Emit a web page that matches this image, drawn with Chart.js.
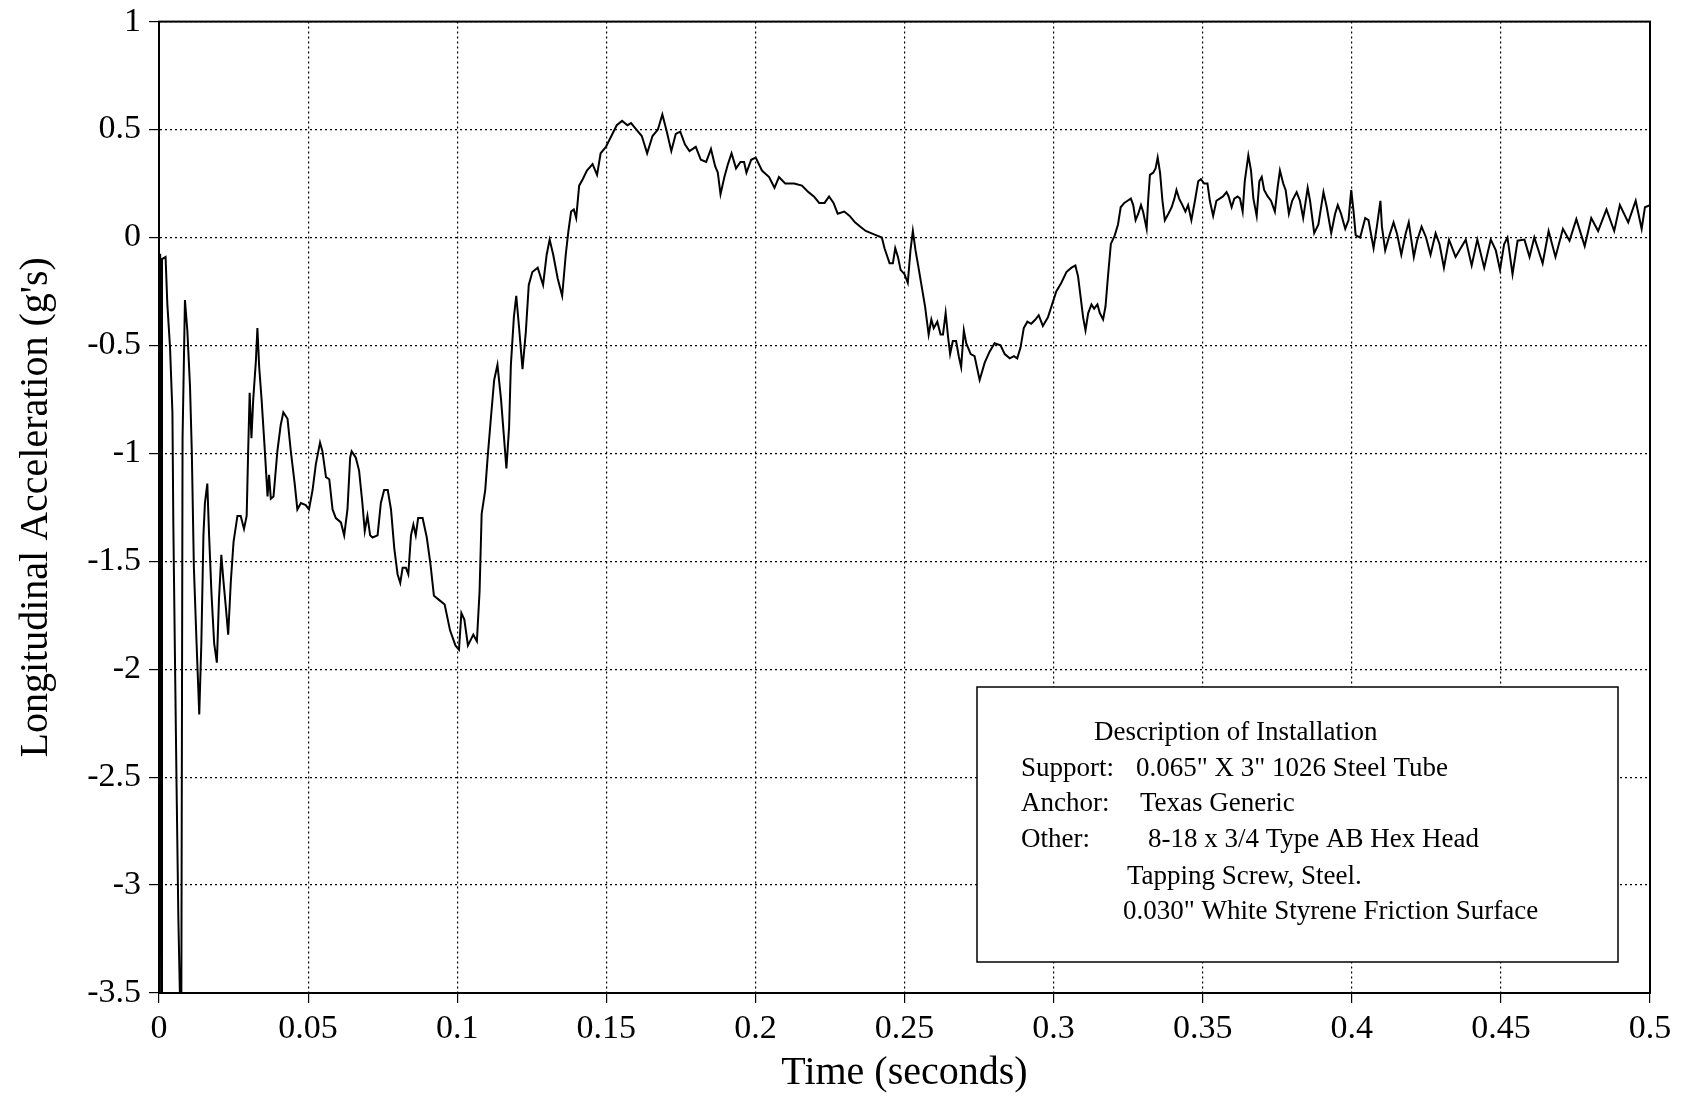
<!DOCTYPE html>
<html>
<head>
<meta charset="utf-8">
<script src="https://cdn.jsdelivr.net/npm/chart.js@4.4.1/dist/chart.umd.min.js"></script>
<style>
  html, body { margin: 0; padding: 0; background: #fff; }
  #wrap { width: 1689px; height: 1097px; }
</style>
</head>
<body>
<div id="wrap"><canvas id="accelChart"></canvas></div>
<script>
// time (s) and longitudinal acceleration (g's)
const timeS = [
  0, 0.0004, 0.0007, 0.001, 0.0022, 0.0028, 0.0037, 0.0045, 0.0048, 0.0054,
  0.0059, 0.0065, 0.007, 0.0075, 0.0079, 0.0087, 0.0095, 0.0104, 0.011, 0.0117,
  0.0126, 0.0135, 0.0142, 0.0149, 0.0154, 0.0162, 0.0168, 0.0176, 0.0185, 0.0194,
  0.0201, 0.0209, 0.0216, 0.0224, 0.0232, 0.0241, 0.025, 0.0263, 0.0274, 0.0285,
  0.0294, 0.0299, 0.0304, 0.031, 0.0316, 0.0325, 0.033, 0.0336, 0.0344, 0.0355,
  0.0364, 0.0369, 0.0375, 0.0384, 0.0397, 0.0408, 0.0417, 0.0431, 0.0442, 0.0455,
  0.0464, 0.0476, 0.0492, 0.0503, 0.0515, 0.0526, 0.054, 0.0548, 0.056, 0.0571,
  0.0582, 0.0593, 0.061, 0.0621, 0.0632, 0.0641, 0.0646, 0.066, 0.0671, 0.0682,
  0.069, 0.0699, 0.0708, 0.0716, 0.0733, 0.0744, 0.0755, 0.0767, 0.0778, 0.0789,
  0.08, 0.0809, 0.0817, 0.0828, 0.0836, 0.0845, 0.0853, 0.0861, 0.0869, 0.0884,
  0.0898, 0.091, 0.0922, 0.094, 0.0958, 0.0976, 0.0994, 0.1006, 0.1014, 0.1024,
  0.1036, 0.1054, 0.1066, 0.1075, 0.1082, 0.1094, 0.1102, 0.1114, 0.1124, 0.1135,
  0.1147, 0.1156, 0.1165, 0.1174, 0.118, 0.119, 0.1198, 0.1207, 0.1219, 0.123,
  0.124, 0.1252, 0.127, 0.1288, 0.13, 0.131, 0.1322, 0.1337, 0.1352, 0.1364,
  0.1373, 0.1382, 0.1391, 0.1399, 0.1409, 0.1421, 0.1435, 0.1454, 0.1469, 0.1481,
  0.1499, 0.1517, 0.1535, 0.1553, 0.1571, 0.1583, 0.1601, 0.1619, 0.1637, 0.1655,
  0.1673, 0.1688, 0.1703, 0.1718, 0.1733, 0.1748, 0.1764, 0.1779, 0.18, 0.1817,
  0.1835, 0.1851, 0.1865, 0.1874, 0.1883, 0.1896, 0.1908, 0.192, 0.1935, 0.195,
  0.1962, 0.197, 0.1986, 0.2001, 0.2022, 0.2046, 0.2064, 0.2079, 0.21, 0.213,
  0.2156, 0.2178, 0.2196, 0.2214, 0.2232, 0.2247, 0.2262, 0.2276, 0.2298, 0.2316,
  0.2334, 0.2352, 0.237, 0.2388, 0.2406, 0.2424, 0.2433, 0.245, 0.2461, 0.2469,
  0.2478, 0.2487, 0.25, 0.2511, 0.252, 0.2528, 0.2537, 0.2547, 0.2558, 0.2569,
  0.2581, 0.259, 0.2598, 0.261, 0.2621, 0.2629, 0.2638, 0.2646, 0.2653, 0.2662,
  0.2673, 0.2682, 0.269, 0.2699, 0.2707, 0.2722, 0.2735, 0.2752, 0.2769, 0.2785,
  0.2802, 0.2822, 0.2836, 0.2853, 0.2867, 0.2878, 0.2889, 0.29, 0.2912, 0.2925,
  0.2939, 0.295, 0.2964, 0.2981, 0.2995, 0.3009, 0.3026, 0.3043, 0.306, 0.3073,
  0.3082, 0.3091, 0.3099, 0.3107, 0.3116, 0.3127, 0.3136, 0.3147, 0.3155, 0.3166,
  0.3174, 0.3183, 0.3192, 0.3205, 0.3216, 0.3225, 0.3237, 0.3248, 0.3259, 0.3267,
  0.3275, 0.3284, 0.3293, 0.33, 0.3312, 0.3317, 0.3323, 0.3334, 0.3342, 0.3349,
  0.3357, 0.3365, 0.3373, 0.3385, 0.3396, 0.3405, 0.3412, 0.3421, 0.3432, 0.3442,
  0.3451, 0.3462, 0.3474, 0.3485, 0.3494, 0.3505, 0.3516, 0.3524, 0.3535, 0.3546,
  0.3557, 0.3568, 0.358, 0.3587, 0.3597, 0.3606, 0.3617, 0.3625, 0.3634, 0.3641,
  0.3653, 0.3662, 0.367, 0.3681, 0.369, 0.3698, 0.3706, 0.3718, 0.3729, 0.3742,
  0.3751, 0.3759, 0.377, 0.3778, 0.3789, 0.38, 0.3815, 0.3826, 0.3837, 0.3852,
  0.386, 0.3874, 0.3888, 0.3905, 0.3916, 0.3931, 0.3944, 0.3953, 0.3964, 0.3978,
  0.3989, 0.3998, 0.4006, 0.4013, 0.4028, 0.4045, 0.4056, 0.4073, 0.4084, 0.4096,
  0.4101, 0.4112, 0.4124, 0.414, 0.4152, 0.4166, 0.418, 0.4191, 0.4208, 0.4219,
  0.4234, 0.4249, 0.4264, 0.4281, 0.4294, 0.4309, 0.4326, 0.4348, 0.4365, 0.4382,
  0.4402, 0.4421, 0.4444, 0.4466, 0.4483, 0.4497, 0.4511, 0.4522, 0.4539, 0.4556,
  0.4579, 0.4596, 0.4612, 0.464, 0.466, 0.4683, 0.4708, 0.473, 0.4753, 0.4781,
  0.4803, 0.4826, 0.4854, 0.488, 0.4899, 0.4927, 0.4952, 0.4972, 0.4983, 0.5
];
const accelG = [
  -0.08, -0.08, -3.5, -0.1, -0.09, -0.31, -0.51, -0.81, -1.32, -2.0,
  -2.55, -3.16, -3.5, -3.5, -0.93, -0.29, -0.43, -0.69, -0.99, -1.53,
  -1.88, -2.21, -1.88, -1.38, -1.23, -1.14, -1.38, -1.65, -1.88, -1.97,
  -1.68, -1.47, -1.59, -1.71, -1.84, -1.59, -1.41, -1.29, -1.29, -1.35,
  -1.29, -0.99, -0.72, -0.93, -0.75, -0.57, -0.42, -0.6, -0.75, -0.99,
  -1.2, -1.1, -1.21, -1.2, -0.99, -0.87, -0.81, -0.84, -0.99, -1.14,
  -1.26, -1.23, -1.24, -1.26, -1.17, -1.05, -0.95, -0.99, -1.11, -1.12,
  -1.26, -1.3, -1.32, -1.38, -1.26, -1.02, -0.99, -1.02, -1.08, -1.23,
  -1.36, -1.29, -1.38, -1.39, -1.38, -1.23, -1.17, -1.17, -1.26, -1.44,
  -1.56, -1.6, -1.53, -1.53, -1.56, -1.38, -1.33, -1.38, -1.3, -1.3,
  -1.39, -1.51, -1.66, -1.68, -1.7, -1.82, -1.89, -1.91, -1.74, -1.77,
  -1.89, -1.84, -1.87, -1.64, -1.28, -1.17, -1.02, -0.82, -0.66, -0.59,
  -0.75, -0.91, -1.07, -0.88, -0.59, -0.37, -0.27, -0.41, -0.61, -0.44,
  -0.22, -0.16, -0.14, -0.22, -0.08, -0.01, -0.08, -0.19, -0.27, -0.08,
  0.03, 0.12, 0.13, 0.09, 0.24, 0.27, 0.31, 0.34, 0.29, 0.39,
  0.42, 0.47, 0.52, 0.54, 0.52, 0.53, 0.5, 0.47, 0.39, 0.47,
  0.5, 0.57, 0.49, 0.4, 0.48, 0.49, 0.43, 0.4, 0.42, 0.36,
  0.35, 0.41, 0.33, 0.3, 0.2, 0.28, 0.34, 0.39, 0.32, 0.35,
  0.35, 0.3, 0.36, 0.37, 0.31, 0.28, 0.23, 0.28, 0.25, 0.25,
  0.24, 0.21, 0.19, 0.16, 0.16, 0.19, 0.16, 0.11, 0.12, 0.1,
  0.07, 0.05, 0.03, 0.02, 0.01, 0.0, -0.05, -0.12, -0.12, -0.05,
  -0.09, -0.15, -0.17, -0.21, -0.06, 0.03, -0.06, -0.14, -0.23, -0.32,
  -0.45, -0.38, -0.42, -0.39, -0.45, -0.45, -0.35, -0.46, -0.54, -0.48,
  -0.48, -0.55, -0.6, -0.43, -0.49, -0.54, -0.55, -0.66, -0.58, -0.53,
  -0.49, -0.5, -0.54, -0.56, -0.55, -0.56, -0.51, -0.42, -0.39, -0.4,
  -0.38, -0.36, -0.41, -0.37, -0.31, -0.25, -0.21, -0.16, -0.14, -0.13,
  -0.18, -0.28, -0.37, -0.43, -0.35, -0.31, -0.33, -0.31, -0.35, -0.38,
  -0.32, -0.17, -0.03, 0.01, 0.06, 0.14, 0.16, 0.17, 0.18, 0.15,
  0.08, 0.11, 0.15, 0.12, 0.04, 0.17, 0.29, 0.3, 0.32, 0.37,
  0.3, 0.17, 0.08, 0.11, 0.14, 0.18, 0.22, 0.18, 0.15, 0.12,
  0.15, 0.08, 0.17, 0.26, 0.27, 0.25, 0.25, 0.17, 0.1, 0.17,
  0.18, 0.19, 0.21, 0.19, 0.14, 0.18, 0.19, 0.18, 0.12, 0.26,
  0.38, 0.31, 0.18, 0.1, 0.26, 0.28, 0.22, 0.19, 0.17, 0.12,
  0.23, 0.31, 0.25, 0.22, 0.11, 0.17, 0.21, 0.17, 0.09, 0.23,
  0.17, 0.02, 0.06, 0.21, 0.14, 0.02, 0.11, 0.15, 0.11, 0.04,
  0.08, 0.22, 0.12, 0.01, 0.0, 0.09, 0.08, -0.05, 0.05, 0.17,
  0.05, -0.06, 0.0, 0.07, 0.015, -0.08, 0.015, 0.07, -0.09, -0.015,
  0.05, 0.0, -0.08, 0.02, -0.03, -0.14, -0.01, -0.09, -0.05, -0.01,
  -0.13, -0.01, -0.14, -0.01, -0.06, -0.15, -0.03, 0.0, -0.17, -0.015,
  -0.01, -0.09, 0.0, -0.12, 0.03, -0.09, 0.04, -0.015, 0.085, -0.04,
  0.09, 0.03, 0.13, 0.03, 0.15, 0.07, 0.17, 0.04, 0.14, 0.15
];
const xTicks = [0, 0.05, 0.1, 0.15, 0.2, 0.25, 0.3, 0.35, 0.4, 0.45, 0.5];
const yTicks = [1, 0.5, 0, -0.5, -1, -1.5, -2, -2.5, -3, -3.5];
const boxTitle = "Description of Installation";
const boxRows = [
  ["Support:", "0.065\" X 3\" 1026 Steel Tube"],
  ["Anchor:", "Texas Generic"],
  ["Other:", "8-18 x 3/4 Type AB Hex Head"],
  ["", "Tapping Screw, Steel."],
  ["", "0.030\" White Styrene Friction Surface"]
];

const serif = "'Liberation Serif', 'Times New Roman', 'DejaVu Serif', serif";
const points = timeS.map((t, i) => ({ x: t, y: accelG[i] }));

// frame around plot + description box
const framePlugin = {
  id: "frame",
  afterDraw(chart) {
    const { ctx, chartArea: a } = chart;
    ctx.save();
    ctx.strokeStyle = "#000";
    ctx.lineWidth = 2;
    ctx.strokeRect(a.left, a.top, a.right - a.left, a.bottom - a.top);

    // description box
    const bx = 977, by = 687, bw = 641, bh = 275;
    ctx.fillStyle = "#fff";
    ctx.fillRect(bx, by, bw, bh);
    ctx.lineWidth = 1.5;
    ctx.strokeRect(bx, by, bw, bh);

    ctx.fillStyle = "#000";
    ctx.font = "27px " + serif;
    ctx.textBaseline = "middle";
    ctx.textAlign = "left";
    ctx.fillText(boxTitle, 1094, 733);
    const rowY = [769, 804, 840, 877, 912];
    const valX = [1136, 1140, 1148, 1127, 1123];
    boxRows.forEach((r, i) => {
      if (r[0]) ctx.fillText(r[0], 1021, rowY[i]);
      ctx.fillText(r[1], valX[i], rowY[i]);
    });
    ctx.restore();
  }
};

const fmt = (v) => String(Number(v.toFixed(2)));

const config = {
  type: "line",
  data: {
    datasets: [{
      data: points,
      borderColor: "#000",
      borderWidth: 2,
      pointRadius: 0,
      tension: 0,
      fill: false
    }]
  },
  options: {
    responsive: false,
    animation: false,
    layout: { padding: { top: 16, right: 39, bottom: 0, left: 0 } },
    plugins: { legend: { display: false }, tooltip: { enabled: false } },
    scales: {
      x: {
        type: "linear",
        min: 0,
        max: 0.5,
        afterFit: (s) => { s.height = 104; },
        afterBuildTicks: (s) => { s.ticks = xTicks.map((v) => ({ value: v })); },
        grid: { color: "#000", lineWidth: 1.2, tickLength: 10, tickColor: "#000", tickWidth: 1.2 },
        border: { display: true, color: "#000", width: 2, dash: [2, 3] },
        ticks: { color: "#000", padding: 6, maxRotation: 0, font: { family: serif, size: 34 }, callback: fmt },
        title: { display: true, text: "Time (seconds)", color: "#000", padding: { top: 0, bottom: 0 }, font: { family: serif, size: 40 } }
      },
      y: {
        type: "linear",
        min: -3.5,
        max: 1,
        afterFit: (s) => { s.width = 159; },
        afterBuildTicks: (s) => { s.ticks = yTicks.map((v) => ({ value: v })); },
        grid: { color: "#000", lineWidth: 1.2, tickLength: 10, tickColor: "#000", tickWidth: 1.2 },
        border: { display: true, color: "#000", width: 2, dash: [2, 3] },
        ticks: { color: "#000", padding: 8, font: { family: serif, size: 34, lineHeight: 0.8 }, callback: fmt },
        title: { display: true, text: "Longitudinal Acceleration (g's)", color: "#000", padding: { top: 12, bottom: 0 }, font: { family: serif, size: 40 } }
      }
    }
  },
  plugins: [framePlugin]
};

const canvas = document.getElementById("accelChart");
canvas.width = 1689;
canvas.height = 1097;
new Chart(canvas.getContext("2d"), config);
</script>
</body>
</html>
